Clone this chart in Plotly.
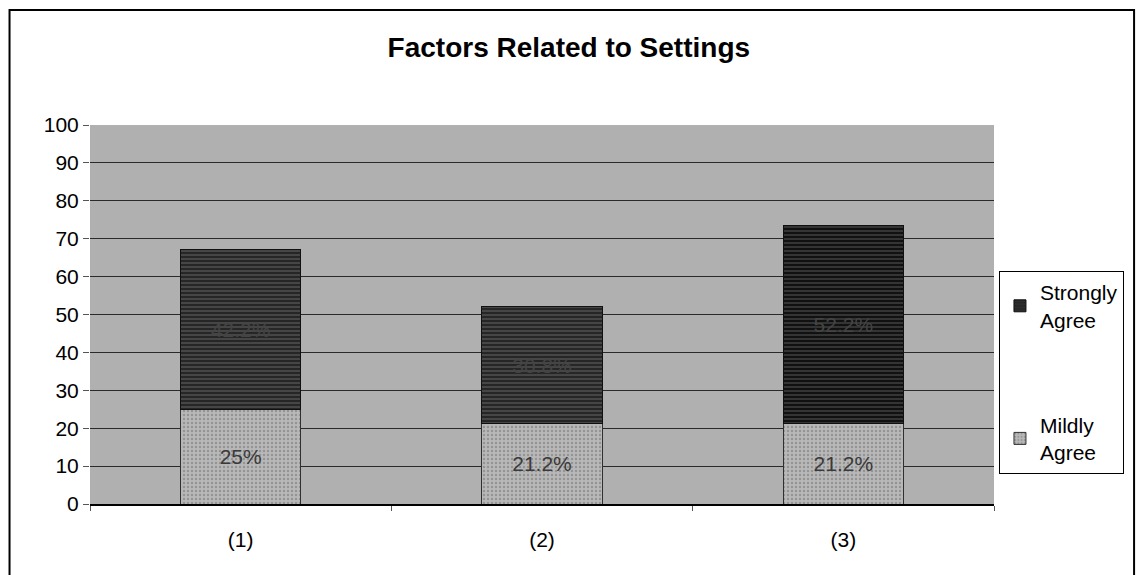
import plotly.graph_objects as go

categories = ["(1)", "(2)", "(3)"]
mildly_agree = [25.0, 21.2, 21.2]
strongly_agree = [42.2, 30.8, 52.2]
mildly_labels = ["25%", "21.2%", "21.2%"]
strongly_labels = ["42.2%", "30.8%", "52.2%"]
y_ticks = list(range(0, 101, 10))

W, H = 1136, 575
L, R, T, B = 90, 136, 125, 71
pw, ph = W - L - R, H - T - B
FONT = "Arial, Liberation Sans, sans-serif"

fig = go.Figure()
fig.add_trace(go.Bar(
    x=categories, y=mildly_agree, name="Mildly<br>Agree", legendgroup="m", legendrank=2,
    text=mildly_labels, textposition="inside", insidetextanchor="middle",
    textfont=dict(family=FONT, size=21, color="#3a3a3a"),
    marker=dict(color="#a8a8a8", line=dict(color="#303030", width=1),
                pattern=dict(shape=".", fgcolor="#707070", bgcolor="#b8b8b8", size=4, solidity=0.3)),
    width=0.4,
))
fig.add_trace(go.Bar(
    x=categories, y=strongly_agree, name="Strongly<br>Agree", legendgroup="s", legendrank=1,
    text=strongly_labels, textposition="inside", insidetextanchor="middle",
    textfont=dict(family=FONT, size=21, color="#444444"),
    marker=dict(color=["#262626", "#262626", "#111111"], line=dict(color="#101010", width=1),
                pattern=dict(shape="-", fgcolor="#505050", size=4, solidity=0.15)),
    width=0.4,
))

fig.update_layout(
    width=W, height=H,
    barmode="stack",
    paper_bgcolor="white",
    plot_bgcolor="#b0b0b0",
    margin=dict(l=L, r=R, t=T, b=B),
    title=dict(text="<b>Factors Related to Settings</b>", x=(572 - L) / pw, xref="paper",
               xanchor="center", y=1 - 47 / H, yanchor="middle",
               font=dict(family=FONT, size=28, color="black")),
    font=dict(family=FONT, size=21, color="black"),
    showlegend=True,
    legend=dict(x=(1005 - L) / pw, y=(H - B - 271) / ph, xanchor="left", yanchor="top",
                bordercolor="black", borderwidth=1, bgcolor="white",
                traceorder="grouped", tracegroupgap=75, itemwidth=30,
                font=dict(family=FONT, size=21, color="black")),
    bargap=0.6,
)
fig.update_yaxes(range=[0, 100], tickvals=y_ticks, showgrid=True, gridcolor="#2a2a2a",
                 gridwidth=1, ticks="outside", ticklen=6, tickcolor="#555",
                 zeroline=False, showline=False, fixedrange=True)
fig.update_xaxes(showgrid=False, ticks="outside", tickson="boundaries", ticklen=5,
                 tickcolor="#555", showline=True, linecolor="black", linewidth=2,
                 ticklabelstandoff=16, fixedrange=True)

# outer chart border
fig.add_shape(type="rect", xref="paper", yref="paper",
              x0=(9 - L) / pw, x1=(W + 5 - L) / pw,
              y0=(H - B - (H + 5)) / ph, y1=(H - B - 10) / ph,
              line=dict(color="black", width=2), fillcolor="rgba(0,0,0,0)", layer="below")

fig.write_html("out.html", config={"displayModeBar": False},
               post_script="document.body.style.margin='0';")
